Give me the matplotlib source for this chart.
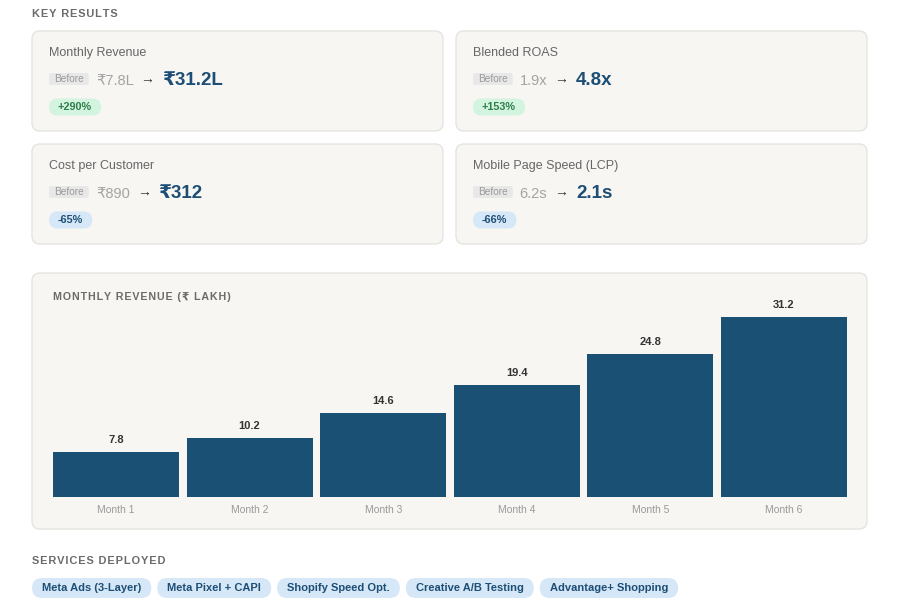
import matplotlib
matplotlib.use("Agg")
import matplotlib.pyplot as plt
from matplotlib.patches import FancyBboxPatch

plt.rcParams['font.family'] = ['Liberation Sans', 'DejaVu Sans']

## data ##
card_titles = ["Monthly Revenue", "Blended ROAS", "Cost per Customer", "Mobile Page Speed (LCP)"]
before_vals = ["₹7.8L", "1.9x", "₹890", "6.2s"]
after_vals = ["₹31.2L", "4.8x", "₹312", "2.1s"]
changes = ["+290%", "+153%", "-65%", "-66%"]

months = ["Month 1", "Month 2", "Month 3", "Month 4", "Month 5", "Month 6"]
revenue = [7.8, 10.2, 14.6, 19.4, 24.8, 31.2]

services = ["Meta Ads (3-Layer)", "Meta Pixel + CAPI", "Shopify Speed Opt.",
            "Creative A/B Testing", "Advantage+ Shopping"]

## colours ##
CARD_BG = "#f7f6f3"
CARD_EDGE = "#e6e4df"
HEAD = "#6b6b6b"
DARK_BLUE = "#1d4e75"
BAR = "#1b5075"
GREEN_BG, GREEN_FG = "#d3f4df", "#2f7d4b"
BLUE_BG, BLUE_FG = "#d6e8f7", "#1d4e75"

W, H = 900, 603
fig = plt.figure(figsize=(W / 100, H / 100), dpi=100, facecolor="white")
bg = fig.add_axes([0, 0, 1, 1])
bg.set_xlim(0, W)
bg.set_ylim(H, 0)
bg.axis("off")
renderer = fig.canvas.get_renderer()


def box(x, y, w, h, color, edge="none", r=8, z=1):
    p = FancyBboxPatch((x, y), w, h, boxstyle=f"round,pad=0,rounding_size={r}",
                       facecolor=color, edgecolor=edge, linewidth=1, zorder=z)
    bg.add_patch(p)


def right_edge(t):
    bb = t.get_window_extent(renderer).transformed(bg.transData.inverted())
    return bb.x1


def pill(x, yc, label, fs, fg, col, hpad, h, r, weight="bold"):
    t = bg.text(x + hpad, yc, label, fontsize=fs, color=fg, fontweight=weight,
                ha="left", va="center", zorder=4)
    bb = t.get_window_extent(renderer).transformed(bg.transData.inverted())
    w = bb.x1 - bb.x0 + 2 * hpad
    box(x, yc - h / 2, w, h, col, r=r, z=3)
    return x + w


def header(x, y, label, fs):
    # spaced-out caps, like css letter-spacing
    bg.text(x, y, "\u200a".join(label), fontsize=fs, fontweight="bold", color=HEAD,
            va="center", family=['Liberation Sans', 'DejaVu Sans'])


## key results header ##
header(32, 14, "KEY RESULTS", 7.9)

card_pos = [(32, 31), (456, 31), (32, 144), (456, 144)]
for i, (cx, cy) in enumerate(card_pos):
    box(cx, cy, 411, 100, CARD_BG, CARD_EDGE)
    bg.text(cx + 17, cy + 22, card_titles[i], fontsize=9, color="#666666", va="center", zorder=4)
    end = pill(cx + 17, cy + 48, "Before", 7.3, "#9a9a9a", "#e8e8e8", 5, 12, 2, weight="normal")
    t = bg.text(end + 7, cy + 54, before_vals[i], fontsize=10.5, color="#a3a3a3",
                va="baseline", zorder=4)
    a = bg.text(right_edge(t) + 7, cy + 52, "→", fontsize=10, color="#333333",
                va="baseline", zorder=4)
    bg.text(right_edge(a) + 8, cy + 54, after_vals[i], fontsize=13.5, fontweight="bold",
            color=DARK_BLUE, va="baseline", zorder=4)
    pos = changes[i].startswith("+")
    pill(cx + 17, cy + 76, changes[i], 7.8, GREEN_FG if pos else BLUE_FG,
         GREEN_BG if pos else BLUE_BG, 9, 17, 8.5)

## revenue chart card ##
box(32, 273, 835, 256, CARD_BG, CARD_EDGE)
header(53, 297, "MONTHLY REVENUE (₹ LAKH)", 7.7)

left, right, top, bottom = 49.2, 850.8, 317, 497
ax = fig.add_axes([left / W, 1 - bottom / H, (right - left) / W, (bottom - top) / H])
ax.set_facecolor("none")
x = range(len(months))
bars = ax.bar(x, revenue, width=0.943, color=BAR, zorder=3)
ax.set_xlim(-0.5, len(months) - 0.5)
ax.set_ylim(0, max(revenue))
for b, v in zip(bars, revenue):
    ax.annotate(f"{v}", (b.get_x() + b.get_width() / 2, v), xytext=(0, 5),
                textcoords="offset points", ha="center", va="bottom",
                fontsize=8, fontweight="bold", color="#333333", annotation_clip=False)
ax.set_xticks(list(x))
ax.set_xticklabels(months, fontsize=7.5, color="#9a9a9a")
ax.tick_params(axis="x", length=0, pad=6)
ax.set_yticks([])
for s in ax.spines.values():
    s.set_visible(False)

## services ##
header(32, 561, "SERVICES DEPLOYED", 7.9)
sx = 32
for name in services:
    sx = pill(sx, 588, name, 8.0, BLUE_FG, BLUE_BG, 10, 20, 10) + 6

fig.savefig("out.png", dpi=100, facecolor="white")
